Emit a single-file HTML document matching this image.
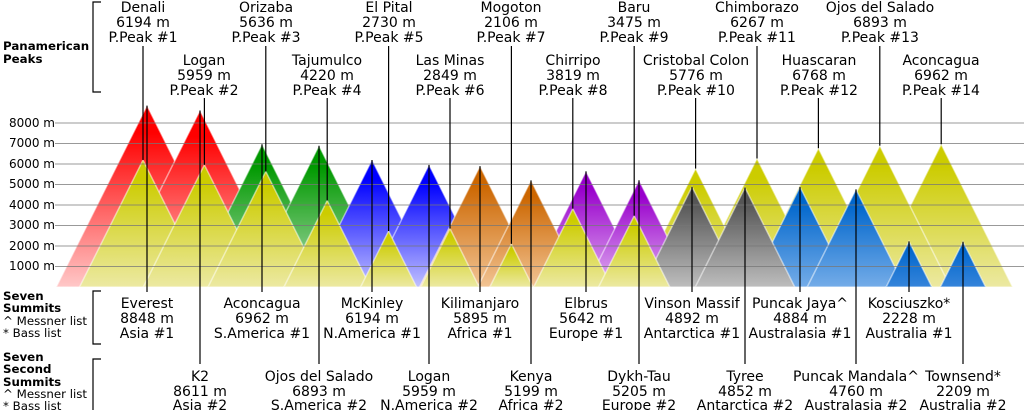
<!DOCTYPE html>
<html><head><meta charset="utf-8"><style>
html,body{margin:0;padding:0;background:#fff;width:1024px;height:410px;overflow:hidden}
svg{display:block}
text{font-family:"DejaVu Sans","Liberation Sans",sans-serif;fill:#000}
.l{font-size:14px;text-anchor:middle}
.a{font-size:12px;text-anchor:end}
.s{font-size:11.8px}
.b{font-size:11.8px;font-weight:bold}
</style></head><body>
<svg id="s" width="1024" height="410" viewBox="0 0 1024 410" xmlns="http://www.w3.org/2000/svg">
<defs id="d"></defs>
<g id="tri"></g>
<g id="grid" stroke="#777" stroke-width="1" opacity="0.75"></g>
<g id="lead" stroke="#000" stroke-width="1.2"></g>
<g>
<text class="a" x="55" y="127">8000 m</text>
<text class="a" x="55" y="147">7000 m</text>
<text class="a" x="55" y="168">6000 m</text>
<text class="a" x="55" y="188">5000 m</text>
<text class="a" x="55" y="209">4000 m</text>
<text class="a" x="55" y="229">3000 m</text>
<text class="a" x="55" y="250">2000 m</text>
<text class="a" x="55" y="270">1000 m</text>
</g>
<g fill="none" stroke="#000" stroke-width="1.2">
<path d="M101 2H93V92H101"/>
<path d="M101 291H93V344H101"/>
<path d="M101 359H93V412H101"/>
</g>
<text class="b" x="3" y="50">Panamerican</text>
<text class="b" x="3" y="63">Peaks</text>
<text class="b" x="3" y="300">Seven</text>
<text class="b" x="3" y="312">Summits</text>
<text class="s" x="3" y="325">^ Messner list</text>
<text class="s" x="3" y="337">* Bass list</text>
<text class="b" x="3" y="361">Seven</text>
<text class="b" x="3" y="373">Second</text>
<text class="b" x="3" y="386">Summits</text>
<text class="s" x="3" y="398">^ Messner list</text>
<text class="s" x="3" y="410">* Bass list</text>

<g class="l">
<text class="l" x="143" y="12">Denali</text><text class="l" x="143" y="27">6194 m</text><text class="l" x="143" y="42">P.Peak #1</text>
<text class="l" x="204" y="65">Logan</text><text class="l" x="204" y="80">5959 m</text><text class="l" x="204" y="95">P.Peak #2</text>
<text class="l" x="266" y="12">Orizaba</text><text class="l" x="266" y="27">5636 m</text><text class="l" x="266" y="42">P.Peak #3</text>
<text class="l" x="327" y="65">Tajumulco</text><text class="l" x="327" y="80">4220 m</text><text class="l" x="327" y="95">P.Peak #4</text>
<text class="l" x="389" y="12">El Pital</text><text class="l" x="389" y="27">2730 m</text><text class="l" x="389" y="42">P.Peak #5</text>
<text class="l" x="450" y="65">Las Minas</text><text class="l" x="450" y="80">2849 m</text><text class="l" x="450" y="95">P.Peak #6</text>
<text class="l" x="511" y="12">Mogoton</text><text class="l" x="511" y="27">2106 m</text><text class="l" x="511" y="42">P.Peak #7</text>
<text class="l" x="573" y="65">Chirripo</text><text class="l" x="573" y="80">3819 m</text><text class="l" x="573" y="95">P.Peak #8</text>
<text class="l" x="634" y="12">Baru</text><text class="l" x="634" y="27">3475 m</text><text class="l" x="634" y="42">P.Peak #9</text>
<text class="l" x="696" y="65">Cristobal Colon</text><text class="l" x="696" y="80">5776 m</text><text class="l" x="696" y="95">P.Peak #10</text>
<text class="l" x="757" y="12">Chimborazo</text><text class="l" x="757" y="27">6267 m</text><text class="l" x="757" y="42">P.Peak #11</text>
<text class="l" x="819" y="65">Huascaran</text><text class="l" x="819" y="80">6768 m</text><text class="l" x="819" y="95">P.Peak #12</text>
<text class="l" x="880" y="12">Ojos del Salado</text><text class="l" x="880" y="27">6893 m</text><text class="l" x="880" y="42">P.Peak #13</text>
<text class="l" x="941" y="65">Aconcagua</text><text class="l" x="941" y="80">6962 m</text><text class="l" x="941" y="95">P.Peak #14</text>

<text class="l" x="147" y="308">Everest</text><text class="l" x="147" y="323">8848 m</text><text class="l" x="147" y="338">Asia #1</text>
<text class="l" x="262" y="308">Aconcagua</text><text class="l" x="262" y="323">6962 m</text><text class="l" x="262" y="338">S.America #1</text>
<text class="l" x="372" y="308">McKinley</text><text class="l" x="372" y="323">6194 m</text><text class="l" x="372" y="338">N.America #1</text>
<text class="l" x="480" y="308">Kilimanjaro</text><text class="l" x="480" y="323">5895 m</text><text class="l" x="480" y="338">Africa #1</text>
<text class="l" x="586" y="308">Elbrus</text><text class="l" x="586" y="323">5642 m</text><text class="l" x="586" y="338">Europe #1</text>
<text class="l" x="692" y="308">Vinson Massif</text><text class="l" x="692" y="323">4892 m</text><text class="l" x="692" y="338">Antarctica #1</text>
<text class="l" x="800" y="308">Puncak Jaya^</text><text class="l" x="800" y="323">4884 m</text><text class="l" x="800" y="338">Australasia #1</text>
<text class="l" x="909" y="308">Kosciuszko*</text><text class="l" x="909" y="323">2228 m</text><text class="l" x="909" y="338">Australia #1</text>

<text class="l" x="200" y="381">K2</text><text class="l" x="200" y="396">8611 m</text><text class="l" x="200" y="410">Asia #2</text>
<text class="l" x="319" y="381">Ojos del Salado</text><text class="l" x="319" y="396">6893 m</text><text class="l" x="319" y="410">S.America #2</text>
<text class="l" x="429" y="381">Logan</text><text class="l" x="429" y="396">5959 m</text><text class="l" x="429" y="410">N.America #2</text>
<text class="l" x="531" y="381">Kenya</text><text class="l" x="531" y="396">5199 m</text><text class="l" x="531" y="410">Africa #2</text>
<text class="l" x="639" y="381">Dykh-Tau</text><text class="l" x="639" y="396">5205 m</text><text class="l" x="639" y="410">Europe #2</text>
<text class="l" x="745" y="381">Tyree</text><text class="l" x="745" y="396">4852 m</text><text class="l" x="745" y="410">Antarctica #2</text>
<text class="l" x="856" y="381">Puncak Mandala^</text><text class="l" x="856" y="396">4760 m</text><text class="l" x="856" y="410">Australasia #2</text>
<text class="l" x="963" y="381">Townsend*</text><text class="l" x="963" y="396">2209 m</text><text class="l" x="963" y="410">Australia #2</text>
</g>
</svg>
<script>
(function(){
var NS="http://www.w3.org/2000/svg",B=287,K=0.0205;
var cols={y:["#cccc00","#ece9a2"],r:["#ff0000","#ffc8c8"],g:["#009900","#b4dcb4"],b:["#0000ff","#c0c0ff"],o:["#cc6600","#f2c494"],p:["#9900cc","#e2b4f2"],k:["#555555","#bdbdbd"],s:["#0066cc","#74ace8"],t:["#0066cc","#3584da"]};
var d=document.getElementById("d");
for(var c in cols){var g=document.createElementNS(NS,"linearGradient");g.setAttribute("id","g"+c);g.setAttribute("x1","0");g.setAttribute("y1","0");g.setAttribute("x2","0");g.setAttribute("y2","1");
g.innerHTML='<stop offset="0.15" stop-color="'+cols[c][0]+'"/><stop offset="1" stop-color="'+cols[c][1]+'"/>';d.appendChild(g);}
var T=[];
var pp=[6194,5959,5636,4220,2730,2849,2106,3819,3475,5776,6267,6768,6893,6962];
pp.forEach(function(h,i){T.push({x:143+61.4*i,h:h,c:"y",lead:i%2?98:46,dir:-1});});
var ss=[[147,8848,"r"],[200,8611,"r"],[262,6962,"g"],[319,6893,"g"],[372,6194,"b"],[429,5959,"b"],[480,5895,"o"],[531,5199,"o"],[586,5642,"p"],[639,5205,"p"],[692,4892,"k"],[745,4852,"k"],[800,4884,"s"],[856,4760,"s"],[909,2228,"t"],[963,2209,"t"]];
ss.forEach(function(a,i){T.push({x:a[0],h:a[1],c:a[2],lead:i%2?364:292,dir:1});});
var tri=document.getElementById("tri"),lead=document.getElementById("lead");
T.slice().sort(function(a,b){return b.h-a.h}).forEach(function(t){
var H=t.h*K,y=B-H,w=H*0.5;
var p=document.createElementNS(NS,"polygon");
p.setAttribute("points",(t.x-w)+","+B+" "+t.x+","+y+" "+(t.x+w)+","+B);
p.setAttribute("fill","url(#g"+t.c+")");p.setAttribute("stroke","#fff");p.setAttribute("stroke-opacity","0.5");p.setAttribute("stroke-width","1.5");
tri.appendChild(p);});
var grid=document.getElementById("grid");
for(var k=1;k<=8;k++){var y=B-k*1000*K;var l=document.createElementNS(NS,"line");l.setAttribute("x1",55);l.setAttribute("x2",1024);l.setAttribute("y1",y);l.setAttribute("y2",y);grid.appendChild(l);}
T.forEach(function(t){var y=B-t.h*K;var l=document.createElementNS(NS,"line");l.setAttribute("x1",t.x);l.setAttribute("x2",t.x);l.setAttribute("y1",t.lead);l.setAttribute("y2",y);lead.appendChild(l);});
})();
</script>
</body></html>
